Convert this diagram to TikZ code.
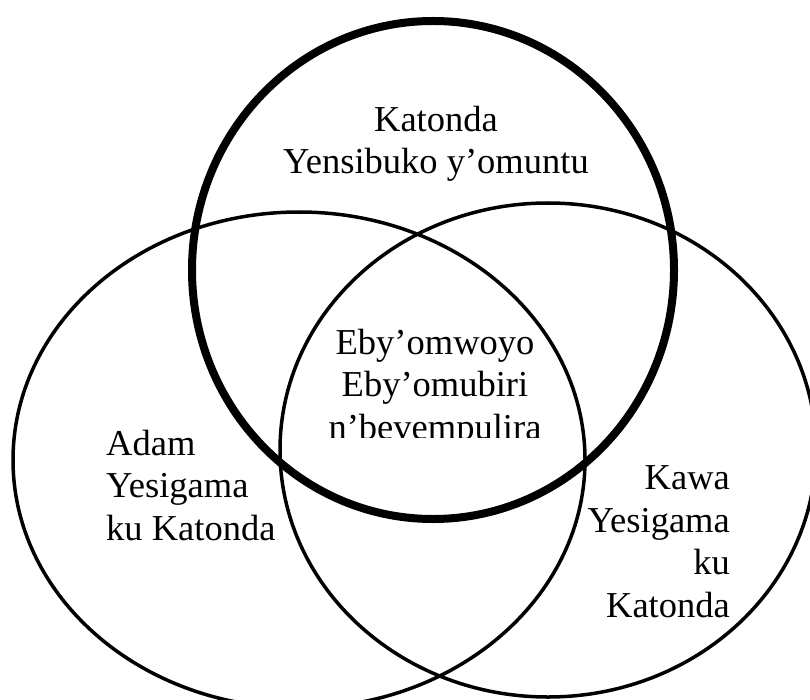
\documentclass[tikz,border=0pt]{standalone}
\usepackage{fontspec}
\setmainfont{Liberation Serif}
\usetikzlibrary{positioning}
\tikzset{
venn/.style={x=1pt,y=-1pt},
set/.style={draw,line width=3.5pt},
godset/.style={draw,line width=8pt},
words/.style={font=\fontsize{36.5}{42.5}\selectfont,inner sep=0pt},
}

\begin{document}
\begin{tikzpicture}[venn]
    \useasboundingbox (0,0) rectangle (810,700);
    \clip (0,0) rectangle (810,700);

    \draw[set] (299,460) ellipse [x radius=286pt, y radius=248pt];
    \draw[set] (548,450) ellipse [x radius=268pt, y radius=247pt];
    \draw[godset] (433,270) ellipse [x radius=241pt, y radius=249pt];

    % base anchor sits on the last line
    \node[words,align=center,anchor=base] (katonda) at (436,174)
        {Katonda\\Yensibuko y’omuntu};
    \begin{scope}
        \clip (300,300) rectangle (570,437.5);
        \node[words,align=center,anchor=base] (mwoyo) at (435,439)
            {Eby’omwoyo\\Eby’omubiri\\n’bevempulira};
    \end{scope}
    \node[words,align=left,anchor=base west] (adam) at (106,540)
        {Adam\\Yesigama\\ku Katonda};
    \node[words,align=right,anchor=base east] (kawa) at (730,617)
        {Kawa\\Yesigama\\ku\\Katonda};
\end{tikzpicture}
\end{document}
